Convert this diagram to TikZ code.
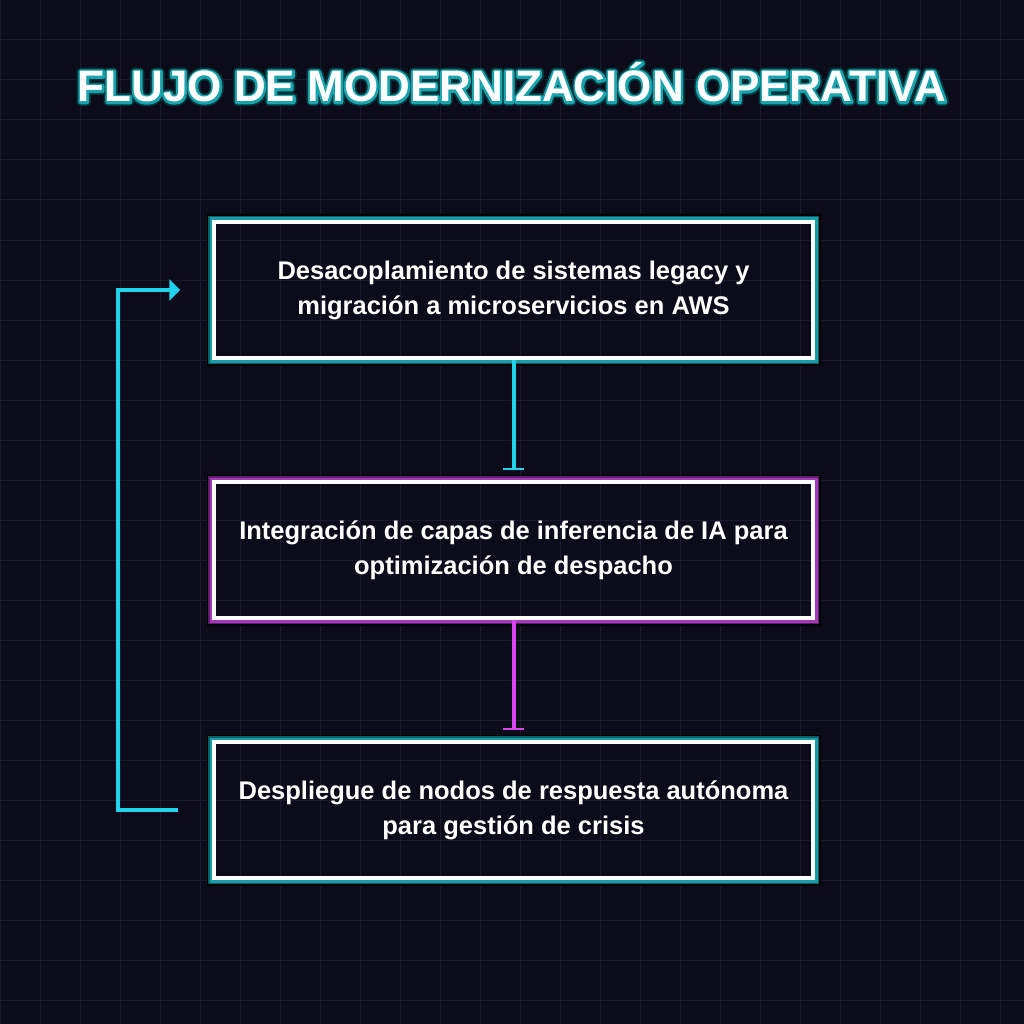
\documentclass[tikz,border=0pt]{standalone}
\usepackage{fontspec}
\setmainfont{Liberation Sans}
\usetikzlibrary{arrows.meta,calc}
\definecolor{bg}{HTML}{0B0B1A}
\definecolor{gridc}{HTML}{1A1A2F}
\definecolor{cyanl}{HTML}{22D3EE}
\definecolor{tealg}{HTML}{1A9BA8}
\definecolor{teald}{HTML}{0C5E66}
\definecolor{magl}{HTML}{D946EF}
\definecolor{magg}{HTML}{A33BB8}
\definecolor{magd}{HTML}{5E1E6C}
\tikzset{
  flowbox/.style={draw=white, line width=3.5pt, minimum width=599pt, minimum height=136pt,
    align=center, text=white, font=\bfseries\fontsize{25.5}{35}\selectfont, inner sep=0pt},
  conn/.style={line width=4pt},
  titlefont/.style={font=\bfseries\fontsize{44}{50}\selectfont}
}
\newcommand\glowtext[1]{%
  \special{pdf:literal 1 Tr 1 j 8 w 0.02 0.21 0.23 RG}\rlap{#1}%
  \special{pdf:literal 1 Tr 1 j 4.5 w 0.10 0.64 0.68 RG}\rlap{#1}%
  \special{pdf:literal 0 Tr}#1}
\newcommand\glowbox[5]{%
  \draw[black, line width=5pt] (209,{#2-73}) rectangle (818,{#2+73});
  \draw[#3, line width=4pt] (210,{#2-72}) rectangle (817,{#2+72});
  \draw[#4, line width=3pt] (211,{#2-71}) rectangle (816,{#2+71});
  \node[flowbox] (#1) at (513.5,#2) {#5};
}
\begin{document}
\begin{tikzpicture}[x=1pt,y=-1pt]
\fill[bg] (0,0) rectangle (1024,1024);
\useasboundingbox (0,0) rectangle (1024,1024);
\foreach \i in {0,40,...,1000} {
  \draw[gridc, line width=1pt] (\i,0) -- (\i,1024);
  \draw[gridc, line width=1pt] (0,\i) -- (1024,\i);
}
\node[titlefont, text=white, anchor=base] (title) at (512,102) {\glowtext{FLUJO DE MODERNIZACIÓN OPERATIVA}};

\glowbox{b1}{290}{teald}{tealg}{Desacoplamiento de sistemas legacy y\\migración a microservicios en AWS}
\glowbox{b2}{550}{magd}{magg}{Integración de capas de inferencia de IA para\\optimización de despacho}
\glowbox{b3}{810}{teald}{tealg}{Despliegue de nodos de respuesta autónoma\\para gestión de crisis}

\draw[conn, cyanl, shorten >=10pt, -{Bar[width=21pt, line width=2.5pt]}] (b1.south) -- (b2.north);
\draw[conn, magl, shorten >=10pt, -{Bar[width=21pt, line width=2.5pt]}] (b2.south) -- (b3.north);
\draw[conn, cyanl, -{Triangle[length=11pt, width=21pt]}] ([xshift=-34pt]b3.west) -- ++(-60,0) |- ([xshift=-32pt]b1.west);
\end{tikzpicture}
\end{document}
